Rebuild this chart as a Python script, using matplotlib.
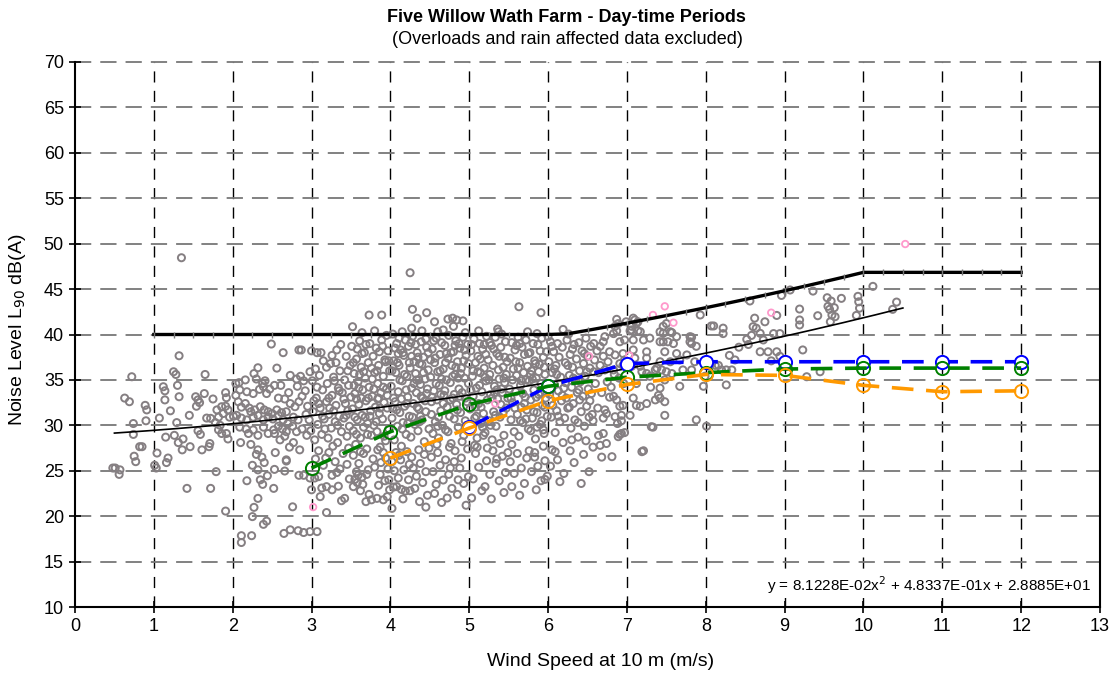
import numpy as np
import matplotlib
matplotlib.use("Agg")
import matplotlib.pyplot as plt

plt.rcParams['font.family'] = ['Liberation Sans', 'DejaVu Sans']

# ---------------- measured data (wind speed m/s, L90 dB(A)) ----------------
calm_pts = [
    (0.48, 25.3), (0.51, 25.3), (0.57, 25.1), (0.56, 24.6), (0.63, 33.0), (0.69, 32.6), (0.72, 35.35),
    (0.74, 30.2), (0.74, 29.0), (0.75, 26.6), (0.77, 26.0), (0.82, 27.65), (0.85, 27.65), (0.89, 32.2),
    (0.91, 31.7), (0.90, 30.5), (1.01, 25.6), (1.03, 25.3), (1.04, 26.95), (1.07, 30.8), (1.12, 34.25),
    (1.14, 33.8), (1.14, 32.8), (1.15, 28.7), (1.16, 25.9), (1.18, 26.4), (1.21, 31.6), (1.25, 35.9),
    (1.28, 35.6), (1.26, 28.9), (1.29, 30.3), (1.30, 34.4), (1.31, 28.1), (1.32, 33.15), (1.32, 37.66),
    (1.35, 48.45), (1.36, 27.3), (1.37, 28.5), (1.42, 23.06), (1.45, 31.1), (1.46, 27.65), (1.53, 33.15),
    (1.54, 32.1), (1.56, 32.8), (1.56, 29.4), (1.58, 32.5), (1.59, 29.0), (1.61, 27.3), (1.64, 33.5),
    (1.65, 35.6), (1.67, 30.8), (1.70, 27.65), (1.71, 28.0), (1.72, 30.77), (1.72, 23.06), (1.75, 32.9),
    (1.78, 30.3), (1.79, 24.9), (1.80, 31.7), (1.82, 30.9), (1.82, 29.5), (1.84, 30.0), (1.86, 32.05),
    (1.86, 29.1), (1.88, 31.3), (1.91, 33.6), (1.91, 32.1), (1.91, 20.56), (1.92, 33.04), (1.92, 29.1),
    (1.94, 31.7), (1.94, 28.5), (1.96, 30.9),
]

light_pts = [
    (2.04, 34.6), (2.08, 34.7), (2.16, 35.0), (2.27, 35.7), (2.30, 35.1), (2.32, 36.34), (2.38, 34.6),
    (2.41, 34.9), (2.49, 38.95), (2.53, 34.4), (2.61, 34.4), (2.64, 38.0), (2.73, 35.5), (2.81, 35.1),
    (2.84, 38.3), (2.04, 33.3), (2.09, 33.9), (2.18, 33.7), (2.26, 33.5), (2.34, 33.96), (2.43, 33.5),
    (2.47, 33.99), (2.39, 34.25), (2.07, 32.6), (2.11, 32.0), (2.16, 32.4), (2.21, 31.9), (2.23, 31.5),
    (2.28, 31.7), (2.35, 32.05), (2.40, 31.7), (2.45, 31.5), (2.50, 31.3), (2.56, 31.7), (2.62, 31.4),
    (2.68, 31.5), (2.73, 32.4), (2.79, 32.05), (2.84, 32.6), (2.01, 31.0), (2.05, 31.1), (2.11, 30.8),
    (2.18, 30.6), (2.26, 30.9), (2.32, 31.1), (2.39, 30.6), (2.45, 30.9), (2.51, 30.7), (2.58, 31.1),
    (2.64, 30.6), (2.70, 30.2), (2.77, 30.9), (2.83, 30.6), (2.09, 29.8), (2.17, 29.6), (2.20, 29.1),
    (2.26, 29.5), (2.32, 28.9), (2.39, 29.8), (2.45, 29.1), (2.52, 29.5), (2.58, 29.9), (2.63, 29.6),
    (2.68, 29.3), (2.76, 29.9), (2.81, 29.3), (2.10, 28.1), (2.23, 27.9), (2.30, 26.8), (2.32, 27.3),
    (2.37, 26.5), (2.40, 25.9), (2.54, 27.0), (2.68, 26.07), (2.77, 28.1), (2.66, 28.8), (2.53, 29.1),
    (2.25, 25.6), (2.32, 25.1), (2.44, 24.45), (2.38, 23.5), (2.35, 24.0), (2.52, 23.06), (2.53, 25.15),
    (2.66, 24.97), (2.84, 24.5), (2.18, 23.9), (2.32, 21.96), (2.27, 20.97), (2.25, 19.95), (2.39, 19.1),
    (2.43, 19.45), (2.11, 17.85), (2.11, 17.1), (2.24, 17.85), (2.65, 18.1), (2.73, 18.5), (2.83, 18.4),
    (2.76, 21.03), (2.90, 18.2), (2.98, 18.3), (2.85, 27.3), (2.68, 26.2), (2.90, 24.5), (2.98, 24.2),
    (2.86, 35.4), (2.90, 34.9), (2.82, 34.3), (2.87, 38.3), (2.58, 33.0), (2.66, 32.9), (2.71, 33.6),
    (2.88, 33.2), (2.93, 31.2), (2.60, 28.4), (2.72, 27.6), (2.88, 29.6), (2.94, 28.9), (2.56, 36.3),
]

core_a = [
    (2.92, 33.8), (2.95, 32.1), (2.97, 30.6), (2.99, 29.4), (3.01, 34.9), (3.02, 31.5), (3.04, 28.4),
    (3.05, 36.2), (3.06, 33.0), (3.08, 30.1), (3.09, 27.2), (3.10, 35.5), (3.11, 31.9), (3.13, 29.0),
    (3.14, 33.9), (3.15, 37.1), (3.16, 30.7), (3.18, 26.4), (3.19, 32.6), (3.20, 34.6), (3.21, 28.6),
    (3.22, 31.2), (3.24, 36.8), (3.25, 29.7), (3.26, 33.3), (3.27, 27.7), (3.28, 35.3), (3.30, 30.4),
    (3.31, 32.2), (3.32, 38.3), (3.33, 28.1), (3.34, 34.1), (3.35, 31.0), (3.36, 36.0), (3.38, 29.3),
    (3.39, 33.6), (3.40, 26.9), (3.41, 30.8), (3.42, 35.0), (3.43, 32.4), (3.44, 37.6), (3.45, 28.8),
    (3.46, 31.6), (3.47, 34.4), (3.48, 29.9), (3.49, 36.6), (3.50, 33.1), (3.47, 27.5), (3.12, 38.0),
    (3.37, 38.9), (3.03, 32.7), (3.07, 34.2), (3.17, 29.6), (3.23, 31.9), (3.29, 34.9), (3.33, 30.0),
    (3.44, 31.1), (3.26, 37.7), (2.98, 35.9), (3.19, 36.4), (3.00, 38.2), (3.07, 38.0),
    (3.00, 22.9), (3.04, 24.2), (3.09, 24.35), (3.11, 22.15), (3.13, 23.1), (3.19, 23.25), (3.19, 20.4),
    (3.26, 22.9), (3.26, 24.5), (3.32, 24.8), (3.34, 23.3), (3.38, 21.7), (3.42, 21.96),
    (3.05, 26.3), (3.15, 25.6), (3.22, 27.0), (3.30, 26.0), (3.36, 25.2), (3.45, 25.7), (3.48, 24.1),
    (3.07, 18.3),
]

core_b = [
    (3.51, 38.7), (3.52, 31.8), (3.53, 29.4), (3.54, 35.7), (3.55, 33.5), (3.56, 27.9), (3.57, 37.3),
    (3.58, 30.6), (3.59, 34.8), (3.60, 32.3), (3.61, 39.3), (3.62, 28.6), (3.63, 36.4), (3.64, 31.1),
    (3.65, 33.9), (3.66, 29.8), (3.67, 38.0), (3.68, 35.2), (3.69, 32.7), (3.70, 27.4), (3.71, 30.2),
    (3.72, 36.9), (3.73, 34.2), (3.74, 39.0), (3.75, 31.6), (3.76, 28.9), (3.77, 33.2), (3.78, 37.6),
    (3.79, 30.0), (3.80, 35.8), (3.81, 32.0), (3.82, 38.5), (3.83, 29.3), (3.84, 34.6), (3.85, 36.6),
    (3.86, 31.3), (3.87, 27.6), (3.88, 33.6), (3.89, 39.4), (3.90, 30.7), (3.91, 35.4), (3.92, 32.5),
    (3.93, 37.2), (3.94, 28.3), (3.95, 34.0), (3.96, 31.9), (3.97, 38.2), (3.98, 29.6), (3.99, 36.0),
    (3.55, 30.9), (3.58, 38.4), (3.63, 33.0), (3.66, 35.9), (3.71, 29.0), (3.74, 31.0), (3.79, 34.0),
    (3.83, 36.0), (3.87, 31.9), (3.92, 28.8), (3.96, 33.3), (3.53, 36.9), (3.60, 34.1), (3.69, 38.9),
    (3.77, 35.1), (3.85, 33.0), (3.94, 37.0), (3.57, 32.9), (3.82, 30.4), (3.64, 37.9), (3.90, 38.7),
    (3.52, 40.86), (3.73, 42.14), (3.89, 42.14), (3.64, 40.2), (3.80, 40.4), (3.95, 39.9),
    (3.57, 24.9), (3.59, 24.5), (3.55, 24.05), (3.64, 24.3), (3.58, 23.7), (3.65, 23.5), (3.53, 23.25),
    (3.62, 22.8), (3.73, 22.4), (3.69, 21.6), (3.76, 21.8), (3.83, 21.96), (3.91, 21.8), (3.96, 22.15),
    (3.99, 22.9), (3.85, 23.4), (3.87, 24.6), (3.93, 23.9), (3.80, 25.4), (3.88, 25.9), (3.94, 26.4),
    (3.97, 25.2), (3.53, 26.7), (3.60, 25.8), (3.66, 26.9), (3.72, 25.1), (3.78, 26.3), (3.91, 27.0),
    (3.62, 27.1), (3.70, 24.6), (3.98, 24.0), (3.84, 27.3),
]

core_c = [
    (4.01, 34.3), (4.02, 30.8), (4.03, 40.05), (4.04, 37.1), (4.05, 28.4), (4.06, 32.6), (4.07, 35.8),
    (4.08, 39.0), (4.09, 29.9), (4.10, 33.7), (4.11, 36.6), (4.12, 31.4), (4.13, 38.3), (4.14, 27.7),
    (4.15, 34.9), (4.16, 30.3), (4.17, 37.7), (4.18, 32.1), (4.19, 39.4), (4.20, 29.0), (4.21, 35.4),
    (4.22, 33.1), (4.23, 38.7), (4.24, 31.0), (4.25, 36.3), (4.26, 28.7), (4.27, 34.1), (4.28, 39.8),
    (4.29, 32.4), (4.30, 37.0), (4.31, 30.1), (4.32, 35.7), (4.33, 33.6), (4.34, 38.0), (4.35, 29.4),
    (4.36, 31.8), (4.37, 36.8), (4.38, 34.5), (4.39, 39.2), (4.40, 30.6), (4.41, 33.0), (4.42, 37.5),
    (4.43, 28.2), (4.44, 35.1), (4.45, 31.5), (4.46, 38.6), (4.47, 34.0), (4.48, 36.1), (4.49, 29.6),
    (4.04, 33.0), (4.08, 31.7), (4.12, 35.0), (4.16, 38.0), (4.20, 33.9), (4.24, 36.9), (4.28, 30.9),
    (4.32, 38.9), (4.36, 35.0), (4.40, 36.7), (4.44, 32.7), (4.06, 38.5), (4.14, 32.9), (4.22, 30.2),
    (4.30, 34.6), (4.38, 31.0), (4.46, 33.5), (4.10, 37.9), (4.26, 39.1), (4.34, 32.0), (4.42, 35.8),
    (4.18, 35.6), (4.48, 38.0), (4.02, 36.0), (4.35, 37.5),
    (4.25, 46.8), (4.28, 42.77), (4.34, 41.78), (4.46, 42.4), (4.27, 40.7), (4.15, 40.3), (4.40, 40.4),
    (4.02, 20.86), (4.04, 23.2), (4.08, 23.25), (4.14, 22.95), (4.19, 22.77), (4.25, 22.8), (4.31, 23.06),
    (4.05, 25.0), (4.10, 24.2), (4.13, 26.2), (4.17, 25.1), (4.21, 27.1), (4.23, 24.0), (4.27, 26.5),
    (4.29, 25.3), (4.33, 24.4), (4.36, 27.3), (4.38, 25.8), (4.41, 23.7), (4.43, 26.8), (4.45, 24.9),
    (4.47, 22.3), (4.49, 27.5), (4.07, 27.0), (4.16, 21.9), (4.37, 21.6), (4.24, 25.7), (4.11, 26.7),
    (4.02, 26.0), (4.45, 21.0),
]

core_d = [
    (4.51, 35.3), (4.52, 31.2), (4.53, 38.4), (4.54, 29.1), (4.55, 33.8), (4.56, 36.9), (4.57, 30.4),
    (4.58, 39.6), (4.59, 32.8), (4.60, 35.9), (4.61, 28.6), (4.62, 34.4), (4.63, 37.8), (4.64, 31.6),
    (4.65, 39.1), (4.66, 30.0), (4.67, 36.2), (4.68, 33.3), (4.69, 38.8), (4.70, 29.5), (4.71, 35.0),
    (4.72, 32.0), (4.73, 37.4), (4.74, 39.9), (4.75, 31.0), (4.76, 34.7), (4.77, 28.0), (4.78, 36.6),
    (4.79, 33.0), (4.80, 38.1), (4.81, 30.7), (4.82, 35.6), (4.83, 39.3), (4.84, 32.3), (4.85, 37.0),
    (4.86, 29.8), (4.87, 34.0), (4.88, 38.5), (4.89, 31.4), (4.90, 36.3), (4.91, 33.6), (4.92, 39.7),
    (4.93, 28.9), (4.94, 35.2), (4.95, 30.5), (4.96, 37.7), (4.97, 32.6), (4.98, 38.9), (4.99, 34.6),
    (4.53, 33.1), (4.57, 37.4), (4.61, 30.9), (4.65, 35.1), (4.69, 33.8), (4.73, 29.3), (4.77, 38.0),
    (4.81, 33.4), (4.85, 31.7), (4.89, 35.7), (4.93, 37.1), (4.97, 30.0), (4.55, 39.3), (4.63, 36.0),
    (4.71, 37.9), (4.79, 35.4), (4.87, 39.0), (4.95, 33.0), (4.59, 27.9), (4.75, 27.6), (4.91, 28.2),
    (4.67, 32.4), (4.83, 36.4), (4.99, 36.8), (4.51, 37.2),
    (4.56, 41.4), (4.67, 40.5), (4.73, 41.7), (4.79, 41.8), (4.84, 41.6), (4.92, 41.5), (4.80, 40.9),
    (4.60, 40.3), (4.95, 40.2),
    (4.54, 24.9), (4.67, 23.98), (4.78, 23.06), (4.76, 25.3), (4.88, 25.3), (4.99, 24.35), (4.52, 26.5),
    (4.56, 22.5), (4.60, 27.0), (4.63, 25.6), (4.70, 26.2), (4.72, 22.0), (4.74, 24.6), (4.82, 27.2),
    (4.85, 22.4), (4.90, 26.4), (4.93, 23.6), (4.96, 21.2), (4.98, 27.4), (4.65, 21.5), (4.86, 24.0),
    (4.58, 23.5), (4.81, 26.0),
]

core_e = [
    (5.01, 31.8), (5.02, 38.2), (5.03, 29.6), (5.04, 35.4), (5.05, 33.2), (5.06, 39.5), (5.07, 30.8),
    (5.08, 36.9), (5.09, 34.1), (5.10, 28.6), (5.11, 37.6), (5.12, 32.4), (5.13, 39.0), (5.14, 35.8),
    (5.15, 30.2), (5.16, 33.7), (5.17, 38.4), (5.18, 31.3), (5.19, 36.3), (5.20, 29.2), (5.21, 34.9),
    (5.22, 39.8), (5.23, 32.8), (5.24, 37.2), (5.25, 30.5), (5.26, 35.6), (5.27, 33.4), (5.28, 38.8),
    (5.29, 28.4), (5.30, 36.6), (5.31, 31.5), (5.32, 34.3), (5.33, 39.7), (5.34, 29.9), (5.35, 37.9),
    (5.36, 32.9), (5.37, 40.3), (5.38, 35.1), (5.39, 30.9), (5.40, 38.6), (5.41, 40.05), (5.42, 33.6),
    (5.43, 36.4), (5.44, 28.9), (5.45, 34.7), (5.46, 39.2), (5.47, 31.9), (5.48, 37.0), (5.49, 33.0),
    (5.05, 36.0), (5.09, 31.0), (5.13, 34.4), (5.17, 29.8), (5.21, 37.8), (5.25, 35.0), (5.29, 33.0),
    (5.33, 31.1), (5.37, 36.1), (5.41, 34.0), (5.45, 37.5), (5.03, 38.9), (5.11, 35.9), (5.19, 38.9),
    (5.27, 30.0), (5.35, 33.9), (5.43, 31.4), (5.07, 27.8), (5.23, 27.5), (5.39, 28.0), (5.47, 35.6),
    (5.15, 32.0), (5.31, 38.4), (5.36, 40.6), (5.12, 40.4),
    (5.20, 23.25), (5.05, 24.1), (5.08, 26.9), (5.12, 25.4), (5.16, 22.8), (5.22, 26.1), (5.26, 24.6),
    (5.30, 27.2), (5.34, 25.8), (5.38, 23.9), (5.42, 26.6), (5.46, 24.8), (5.49, 27.0), (5.03, 22.0),
    (5.28, 21.9), (5.44, 22.6), (5.10, 27.6), (5.35, 26.3),
]

core_f = [
    (5.51, 34.0), (5.52, 37.4), (5.53, 30.6), (5.54, 39.1), (5.55, 32.5), (5.56, 36.2), (5.57, 29.3),
    (5.58, 38.3), (5.59, 33.7), (5.60, 35.5), (5.61, 31.2), (5.62, 39.7), (5.63, 28.8), (5.64, 36.9),
    (5.65, 34.4), (5.66, 32.0), (5.67, 38.6), (5.68, 30.3), (5.69, 35.8), (5.70, 37.8), (5.71, 33.1),
    (5.72, 39.4), (5.73, 31.7), (5.74, 36.5), (5.75, 29.6), (5.76, 34.9), (5.77, 38.0), (5.78, 32.8),
    (5.79, 36.0), (5.80, 30.8), (5.81, 39.0), (5.82, 33.9), (5.83, 37.1), (5.84, 28.5), (5.85, 35.2),
    (5.86, 31.4), (5.87, 38.9), (5.88, 33.4), (5.89, 36.7), (5.90, 30.1), (5.91, 34.6), (5.92, 39.6),
    (5.93, 32.2), (5.94, 37.5), (5.95, 29.1), (5.96, 35.6), (5.97, 33.0), (5.98, 38.1), (5.99, 31.0),
    (5.55, 35.0), (5.60, 38.8), (5.65, 30.5), (5.70, 32.4), (5.75, 37.9), (5.80, 35.1), (5.85, 33.1),
    (5.90, 38.2), (5.95, 36.4), (5.58, 31.9), (5.68, 33.5), (5.78, 29.4), (5.88, 35.9), (5.98, 34.3),
    (5.62, 36.3), (5.72, 35.0), (5.82, 31.5), (5.92, 30.5), (5.54, 27.9), (5.76, 27.2), (5.94, 27.7),
    (5.63, 43.06), (5.91, 42.4), (5.74, 40.3), (5.86, 40.1), (6.00, 39.76),
    (5.54, 23.25), (5.52, 26.0), (5.57, 24.7), (5.61, 26.9), (5.66, 25.3), (5.70, 23.6), (5.73, 26.4),
    (5.79, 24.9), (5.83, 27.0), (5.87, 25.5), (5.91, 23.9), (5.96, 26.1), (5.99, 24.4), (5.64, 22.3),
    (5.85, 22.9), (5.96, 24.05), (5.83, 26.5), (5.94, 29.5),
]

core_g = [
    (6.01, 37.0), (6.02, 33.4), (6.03, 39.2), (6.04, 30.9), (6.05, 35.8), (6.06, 32.2), (6.07, 38.1),
    (6.08, 34.5), (6.09, 29.2), (6.10, 36.6), (6.11, 31.6), (6.12, 39.0), (6.13, 33.8), (6.14, 37.5),
    (6.15, 30.4), (6.16, 35.3), (6.17, 32.7), (6.18, 38.6), (6.19, 40.56), (6.20, 34.1), (6.21, 30.8),
    (6.22, 36.9), (6.23, 33.0), (6.24, 39.4), (6.25, 31.9), (6.26, 40.05), (6.27, 35.5), (6.28, 37.8),
    (6.29, 29.7), (6.30, 34.2), (6.31, 36.4), (6.32, 32.4), (6.33, 38.9), (6.34, 30.6), (6.35, 35.0),
    (6.36, 37.3), (6.37, 33.6), (6.38, 30.3), (6.39, 39.1), (6.40, 36.0), (6.41, 34.8), (6.42, 31.5),
    (6.43, 38.2), (6.44, 33.2), (6.45, 36.8), (6.46, 29.9), (6.47, 35.4), (6.48, 39.6), (6.49, 32.1),
    (6.50, 37.6), (6.51, 34.0), (6.52, 30.9), (6.53, 36.3), (6.54, 38.7), (6.55, 33.5), (6.56, 31.2),
    (6.57, 30.5), (6.58, 35.9), (6.59, 37.2), (6.60, 34.6), (6.05, 38.7), (6.13, 31.0), (6.22, 34.7),
    (6.31, 38.4), (6.40, 32.8), (6.49, 35.9), (6.58, 39.0), (6.08, 36.2), (6.27, 32.0),
    (6.05, 27.3), (6.09, 27.1), (6.19, 28.1), (6.28, 27.2), (6.38, 28.7), (6.64, 28.9), (6.68, 26.5),
    (6.03, 25.5), (6.12, 26.2), (6.20, 24.7), (6.33, 25.9), (6.45, 26.8), (6.52, 24.9), (6.57, 27.6),
    (6.15, 23.8), (6.42, 23.6), (6.30, 28.4), (6.48, 28.3),
]

# extra readings in the busiest part of the cloud
core_extra = [
    (3.54, 34.4), (3.61, 35.6), (3.68, 30.9), (3.76, 36.3), (3.84, 32.9), (3.91, 34.2), (3.98, 37.1),
    (3.57, 29.0), (3.72, 33.0), (3.86, 38.1), (4.03, 31.9), (4.09, 36.9), (4.15, 29.6), (4.21, 32.4),
    (4.27, 37.6), (4.33, 35.0), (4.39, 33.2), (4.45, 39.5), (4.11, 39.6), (4.37, 30.4), (4.52, 32.6),
    (4.58, 34.6), (4.64, 33.4), (4.70, 36.9), (4.76, 32.8), (4.82, 38.8), (4.88, 33.2), (4.94, 38.3),
    (4.60, 29.9), (4.86, 35.2), (5.02, 33.9), (5.08, 32.0), (5.14, 37.3), (5.20, 35.3), (5.26, 39.1),
    (5.32, 33.6), (5.38, 37.6), (5.44, 35.2), (5.18, 28.9), (5.40, 32.3), (5.53, 33.0), (5.59, 37.0),
    (5.66, 34.9), (5.72, 30.7), (5.78, 35.6), (5.84, 36.8), (5.90, 33.6), (5.96, 32.0), (5.64, 39.0),
    (5.86, 29.8), (6.04, 34.0), (6.11, 35.6), (6.18, 33.3), (6.25, 36.6), (6.32, 35.2), (6.39, 33.9),
    (6.46, 37.9), (6.53, 32.7), (3.22, 33.0), (3.28, 31.6), (3.35, 33.8), (3.41, 32.9), (3.14, 31.0),
    (3.46, 36.0), (3.09, 32.4), (3.31, 36.9),
]

fresh_pts = [
    (6.87, 41.67), (6.89, 41.2), (6.85, 40.9), (6.87, 40.4), (6.62, 38.2), (6.64, 35.8), (6.75, 34.8),
    (6.80, 34.2), (6.90, 35.2), (6.96, 34.6), (6.68, 33.6), (6.78, 33.1), (6.95, 36.6), (6.63, 31.9),
    (6.88, 30.2), (6.97, 29.2), (6.91, 29.0), (6.93, 30.5), (6.81, 26.55), (6.66, 27.8), (6.74, 28.0),
    (6.84, 35.6), (6.72, 36.1), (6.83, 33.2), (6.87, 32.8), (6.91, 32.1), (6.74, 31.3), (6.72, 31.7),
    (6.70, 30.8), (6.89, 28.75), (6.93, 29.1), (6.70, 29.1), (6.95, 32.2), (6.93, 31.1), (6.85, 30.95),
    (6.83, 40.1), (6.72, 39.76), (6.70, 39.2), (6.66, 38.7), (6.78, 38.1), (6.85, 37.75), (6.95, 37.9),
    (6.97, 37.2), (6.91, 36.8), (6.76, 37.0), (6.70, 37.6), (6.66, 36.6), (6.83, 36.1), (6.97, 39.4),
    (6.91, 39.2), (6.99, 41.4),
    (7.10, 41.6), (7.12, 41.2), (7.06, 40.9), (7.14, 40.4), (7.04, 40.4), (7.42, 40.3), (7.46, 40.9),
    (7.50, 41.2), (7.57, 40.2), (7.52, 39.2), (7.46, 39.2), (7.82, 39.7), (7.80, 39.2), (7.08, 41.8),
    (7.14, 41.4), (7.06, 40.5), (7.17, 40.3), (7.08, 39.4), (7.21, 39.4), (7.29, 39.6), (7.08, 38.3),
    (7.10, 37.4), (7.06, 36.5), (7.63, 39.76), (7.55, 40.3), (7.46, 40.13), (7.59, 39.0), (7.42, 39.2),
    (7.48, 38.1), (7.63, 37.9), (7.67, 37.2), (7.55, 37.0), (7.42, 37.0), (7.38, 36.3), (7.44, 36.1),
    (7.50, 35.9), (7.57, 35.7), (7.25, 38.1), (7.25, 37.4), (7.17, 36.5), (7.19, 35.9), (7.25, 35.7),
    (7.36, 36.1), (7.29, 35.4), (7.42, 34.1), (7.40, 33.3), (7.42, 33.0), (7.48, 32.6), (7.48, 31.1),
    (7.36, 32.8), (7.25, 32.4), (7.17, 32.1), (7.08, 33.0), (7.12, 32.2), (7.04, 31.1), (7.19, 27.1),
    (7.31, 29.85), (7.33, 29.8), (7.88, 30.6), (7.93, 42.15), (7.80, 39.76), (7.82, 39.0), (7.88, 38.7),
    (7.76, 37.75), (7.86, 37.0), (7.71, 36.1), (7.82, 36.1), (7.67, 34.3), (7.48, 35.0), (7.97, 34.3),
    (7.21, 27.2), (7.12, 34.6), (7.30, 34.2),
]

strong_pts = [
    (8.07, 40.94), (8.10, 40.94), (8.22, 40.7), (8.22, 40.1), (8.56, 43.69), (8.62, 41.8), (8.75, 41.4),
    (8.60, 40.86), (8.64, 40.7), (8.69, 40.13), (8.58, 39.9), (8.52, 39.47), (8.73, 39.4), (8.86, 40.1),
    (8.94, 40.1), (8.69, 38.1), (8.79, 38.1), (8.90, 38.1), (8.94, 37.6), (8.83, 37.1), (8.26, 36.1),
    (8.20, 36.1), (8.33, 36.1), (8.16, 36.6), (8.26, 34.45), (8.05, 36.5), (8.12, 36.6), (7.99, 35.4),
    (8.01, 29.9), (8.42, 38.6), (8.37, 37.2), (8.90, 42.1), (8.96, 44.3), (8.30, 37.7), (8.54, 38.9),
    (9.07, 44.9), (9.36, 44.78), (9.54, 44.05), (9.59, 43.68), (9.72, 43.98), (9.57, 42.77), (9.63, 42.95),
    (9.60, 42.14), (9.64, 41.96), (9.58, 41.4), (9.42, 42.07), (9.19, 42.8), (9.19, 41.6), (9.19, 41.05),
    (9.94, 43.6), (9.95, 42.9), (9.91, 42.1), (10.12, 45.3), (10.42, 43.57), (10.37, 42.77), (9.23, 38.3),
    (9.45, 35.9), (9.28, 35.35), (9.55, 43.1), (9.93, 44.2),
]

# readings flagged in pink
flagged_pts = [
    (7.33, 42.15), (7.48, 43.1), (7.59, 41.3), (8.83, 42.4), (10.53, 49.96), (3.02, 21.0),
    (5.33, 32.4), (6.52, 37.6), (7.03, 37.7),
]

# integer-bin results
bin_speed = [3, 4, 5, 6, 7, 8, 9, 10, 11, 12]
blue_level = [None, None, 29.8, 34.3, 36.8, 37.0, 37.0, 37.0, 37.0, 37.0]
green_level = [25.3, 29.3, 32.3, 34.3, 35.3, 35.8, 36.2, 36.3, 36.3, 36.3]
orange_level = [None, 26.4, 29.7, 32.7, 34.5, 35.6, 35.5, 34.4, 33.7, 33.8]

# polynomial best fit (a x^2 + b x + c)
fit_a, fit_b, fit_c = 8.1228e-02, 4.8337e-01, 2.8885e+01
fit_range = (0.5, 10.5)
floor_level = 40.0
margin = 5.0

x_ticks = list(range(0, 14))
y_ticks = list(range(10, 75, 5))

# ---------------- figure ----------------
fig = plt.figure(figsize=(11.14, 6.78), dpi=100)
ax = fig.add_axes([75 / 1114, 1 - 607 / 678, 1025 / 1114, 545 / 678])

ax.set_xlim(0, 13)
ax.set_ylim(10, 70)

# grid
for xv in x_ticks[1:-1]:
    ax.plot([xv, xv], [10, 70], color='black', lw=1.0, dashes=(8, 6), zorder=1)
for yv in y_ticks[1:]:
    ax.plot([0, 13], [yv, yv], color='#777777', lw=1.3, dashes=(9, 5), zorder=1, clip_on=False)

scatter_sets = [calm_pts, light_pts, core_a, core_b, core_c, core_d, core_e, core_f, core_g,
                core_extra, fresh_pts, strong_pts]
pts = np.array([p for s in scatter_sets for p in s])
ax.scatter(pts[:, 0], pts[:, 1], s=26, facecolors='none', edgecolors='#857f82',
           linewidths=1.4, zorder=2)
fp = np.array(flagged_pts)
ax.scatter(fp[:, 0], fp[:, 1], s=22, facecolors='none', edgecolors='#ff99cc',
           linewidths=1.3, zorder=2)

# fitted curve
xs = np.linspace(fit_range[0], fit_range[1], 200)
ax.plot(xs, fit_a * xs ** 2 + fit_b * xs + fit_c, color='black', lw=1.2, zorder=4)

# limit curve: max(floor, fit + margin) up to 10 m/s, then held
xl = np.arange(1, 12.001, 0.25)
xc = np.minimum(xl, 10)
yl = np.maximum(floor_level, fit_a * xc ** 2 + fit_b * xc + fit_c + margin)
ax.plot(xl, yl, color='black', lw=2.4, zorder=4, marker='|', markersize=4,
        markeredgecolor='#777777', markeredgewidth=1.0)


def series(levels):
    xs_, ys_ = [], []
    for s, v in zip(bin_speed, levels):
        if v is not None:
            xs_.append(s)
            ys_.append(v)
    return xs_, ys_


bx, by = series(blue_level)
ax.plot(bx, by, color='#0000ff', lw=2.6, dashes=(6, 3.5), marker='o', markersize=9.5,
        markerfacecolor='white', markeredgecolor='#0000ff', markeredgewidth=1.4, zorder=5)
gx, gy = series(green_level)
ax.plot(gx, gy, color='#008000', lw=2.6, dashes=(6, 3.5), marker='o', markersize=9.5,
        markerfacecolor='none', markeredgecolor='#008000', markeredgewidth=1.4, zorder=6)
ox, oy = series(orange_level)
ax.plot(ox, oy, color='#ff9900', lw=2.6, dashes=(6, 3.5), marker='o', markersize=9.5,
        markerfacecolor='none', markeredgecolor='#ff9900', markeredgewidth=1.4, zorder=7)

# axes styling
ax.spines['top'].set_visible(False)
for side in ('left', 'bottom', 'right'):
    ax.spines[side].set_linewidth(1.5)
    ax.spines[side].set_color('black')
ax.set_xticks(x_ticks)
ax.set_yticks(y_ticks)
ax.tick_params(axis='both', direction='inout', length=8, width=1.2, labelsize=13, pad=4)
ax.tick_params(axis='y', right=False)

ax.text(0.991, 0.02, 'y = 8.1228E-02x$^{2}$ + 4.8337E-01x + 2.8885E+01',
        transform=ax.transAxes, ha='right', va='bottom', fontsize=11, zorder=8,
        bbox=dict(facecolor='white', edgecolor='none', pad=1.5))

fig.text(566 / 1114, 1 - 17 / 678, 'Five Willow Wath Farm - Day-time Periods',
         ha='center', va='center', fontsize=13, fontweight='bold')
fig.text(567 / 1114, 1 - 39 / 678, '(Overloads and rain affected data excluded)',
         ha='center', va='center', fontsize=13)
fig.text(601 / 1114, 1 - 662 / 678, 'Wind Speed at 10 m (m/s)', ha='center', va='center',
         fontsize=14)
fig.text(18 / 1114, 1 - 330 / 678, 'Noise Level L$_{90}$ dB(A)', ha='center', va='center',
         rotation=90, fontsize=14)

fig.savefig('out.png', dpi=100)
